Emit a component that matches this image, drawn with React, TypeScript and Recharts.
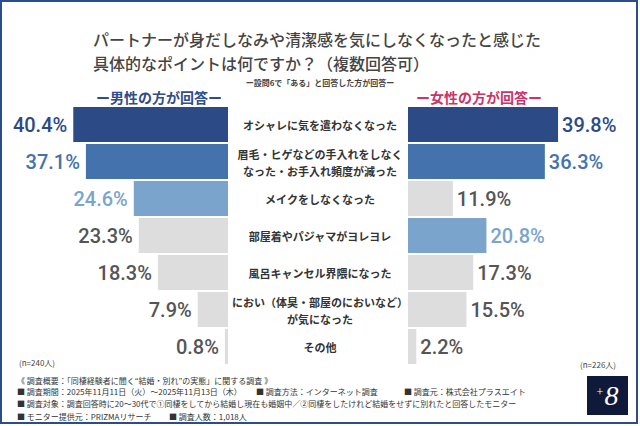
import React from 'react';
import { BarChart, Bar, XAxis, YAxis, Cell, LabelList } from 'recharts';

const categories = [
  'オシャレに気を遣わなくなった',
  '眉毛・ヒゲなどの手入れをしなく\nなった・お手入れ頻度が減った',
  'メイクをしなくなった',
  '部屋着やパジャマがヨレヨレ',
  '風呂キャンセル界隈になった',
  'におい（体臭・部屋のにおいなど）\nが気になった',
  'その他',
];
const maleValues = [40.4, 37.1, 24.6, 23.3, 18.3, 7.9, 0.8];
const femaleValues = [39.8, 36.3, 11.9, 20.8, 17.3, 15.5, 2.2];

const titleLines = [
  'パートナーが身だしなみや清潔感を気にしなくなったと感じた',
  '具体的なポイントは何ですか？（複数回答可）',
];
const subtitle = 'ー設問6で「ある」と回答した方が回答ー';
const maleHeader = 'ー男性の方が回答ー';
const femaleHeader = 'ー女性の方が回答ー';
const maleN = '(n=240人)';
const femaleN = '(n=226人)';
const footerLines = [
  '《 調査概要：「同棲経験者に聞く“結婚・別れ”の実態」に関する調査 》',
];

const RANK_COLORS = ['#2c4a85', '#4472ad', '#7ba4cc'];
const GRAY = '#dddddd';
const GRAY_TEXT = '#555555';
const JP = '"Noto Sans CJK JP", "Noto Sans", sans-serif';
const NUM = 'Roboto, "Noto Sans", sans-serif';

function rankColors(values: number[]) {
  const sorted = [...values].sort((a, b) => b - a);
  return values.map((v) => {
    const r = sorted.indexOf(v);
    return r < 3 ? RANK_COLORS[r] : GRAY;
  });
}

const maleColors = rankColors(maleValues);
const femaleColors = rankColors(femaleValues);
const leftData = categories.map((name, i) => ({ name, value: maleValues[i], color: maleColors[i] }));
const rightData = categories.map((name, i) => ({ name, value: femaleValues[i], color: femaleColors[i] }));

const labelColor = (c: string) => (c === GRAY ? GRAY_TEXT : c);

const LeftLabel = (props: any) => {
  const { x, y, width, height, index } = props;
  const left = Math.min(x, x + width);
  const c = labelColor(maleColors[index]);
  return (
    <text x={left - 6} y={y + height / 2 + 7} textAnchor="end" fill={c}
      style={{ fontFamily: NUM, fontSize: 20, fontWeight: 500 }}>
      {`${maleValues[index].toFixed(1)}%`}
    </text>
  );
};

const RightLabel = (props: any) => {
  const { x, y, width, height, index } = props;
  const right = Math.max(x, x + width);
  const c = labelColor(femaleColors[index]);
  return (
    <text x={right + 4} y={y + height / 2 + 7} textAnchor="start" fill={c}
      style={{ fontFamily: NUM, fontSize: 20, fontWeight: 500 }}>
      {`${femaleValues[index].toFixed(1)}%`}
    </text>
  );
};

const CenterTick = (props: any) => {
  const { y, payload } = props;
  const lines = String(payload.value).split('\n');
  const offsets = lines.length === 1 ? [0] : [-8, 9];
  return (
    <g>
      {lines.map((l, i) => (
        <text key={i} x={92} y={y + offsets[i]} textAnchor="middle" dominantBaseline="central"
          fill="#333333" style={{ fontFamily: JP, fontSize: 11, fontWeight: 700 }}>
          {l}
        </text>
      ))}
    </g>
  );
};

const abs = (left: number, top: number, extra: React.CSSProperties = {}): React.CSSProperties => ({
  position: 'absolute', left, top, whiteSpace: 'nowrap', fontFamily: JP, lineHeight: 1, ...extra,
});

export default function App() {
  return (
    <div style={{ position: 'absolute', left: 0, top: 0, width: 640, height: 426, background: '#ffffff', overflow: 'hidden' }}>
      <div style={{ position: 'absolute', left: 0, top: 0, width: 638, height: 424, border: '2px solid #2c4c8a', boxSizing: 'border-box' }} />

      <div style={abs(93, 31, { fontSize: 16, fontWeight: 500, color: '#444444' })}>{titleLines[0]}</div>
      <div style={abs(93, 55, { fontSize: 16, fontWeight: 500, color: '#444444' })}>{titleLines[1]}</div>
      <div style={{ ...abs(0, 79, { fontSize: 8, fontWeight: 700, color: '#444444' }), width: 640, textAlign: 'center' }}>{subtitle}</div>
      <div style={{ ...abs(59, 90, { fontSize: 14, fontWeight: 700, color: '#2e4d8a' }), width: 200, textAlign: 'center' }}>{maleHeader}</div>
      <div style={{ ...abs(379, 90, { fontSize: 14, fontWeight: 700, color: '#c9356a' }), width: 200, textAlign: 'center' }}>{femaleHeader}</div>

      <div style={{ position: 'absolute', left: 0, top: 0 }}>
        <BarChart width={228} height={426} layout="vertical" data={leftData}
          margin={{ top: 106, bottom: 61, left: 36.5, right: 0 }}>
          <XAxis type="number" domain={[0, 50]} reversed hide />
          <YAxis type="category" dataKey="name" hide />
          <Bar dataKey="value" barSize={35} isAnimationActive={false}>
            {leftData.map((d, i) => <Cell key={i} fill={d.color} />)}
            <LabelList dataKey="value" content={LeftLabel} />
          </Bar>
        </BarChart>
      </div>

      <div style={{ position: 'absolute', left: 228, top: 0 }}>
        <BarChart width={412} height={426} layout="vertical" data={rightData}
          margin={{ top: 106, bottom: 61, left: 0, right: 43.5 }}>
          <XAxis type="number" domain={[0, 50]} hide />
          <YAxis type="category" dataKey="name" width={180} axisLine={false} tickLine={false} tick={CenterTick} interval={0} />
          <Bar dataKey="value" barSize={35} isAnimationActive={false}>
            {rightData.map((d, i) => <Cell key={i} fill={d.color} />)}
            <LabelList dataKey="value" content={RightLabel} />
          </Bar>
        </BarChart>
      </div>

      <div style={abs(19, 359, { fontSize: 8, color: '#444444' })}>{maleN}</div>
      <div style={abs(580, 361, { fontSize: 8, color: '#444444' })}>{femaleN}</div>

      <div style={abs(17, 377, { fontSize: 8, color: '#333333' })}>{footerLines[0]}</div>
      <div style={abs(17, 388, { fontSize: 8, color: '#333333' })}>■ 調査期間：2025年11月11日（火）～2025年11月13日（木）</div>
      <div style={abs(256, 388, { fontSize: 8, color: '#333333' })}>■ 調査方法：インターネット調査</div>
      <div style={abs(404, 388, { fontSize: 8, color: '#333333' })}>■ 調査元：株式会社プラスエイト</div>
      <div style={abs(17, 400, { fontSize: 8, color: '#333333' })}>■ 調査対象：調査回答時に20～30代で①同棲をしてから結婚し現在も婚姻中／②同棲をしたけれど結婚をせずに別れたと回答したモニター</div>
      <div style={abs(17, 413, { fontSize: 8, color: '#333333' })}>■ モニター提供元：PRIZMAリサーチ</div>
      <div style={abs(169, 413, { fontSize: 8, color: '#333333' })}>■ 調査人数：1,018人</div>

      <div style={{ position: 'absolute', left: 587, top: 376, width: 41, height: 39, background: '#0f1a3a', color: '#ffffff', display: 'flex', alignItems: 'center', justifyContent: 'center' }}>
        <span style={{ fontFamily: '"Liberation Serif", serif', fontSize: 12, marginRight: 1, marginTop: -6 }}>+</span>
        <span style={{ fontFamily: '"Liberation Serif", serif', fontStyle: 'italic', fontSize: 28, lineHeight: 1 }}>8</span>
      </div>
    </div>
  );
}
